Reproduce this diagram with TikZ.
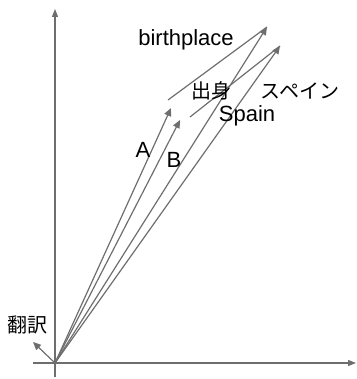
\documentclass[tikz,border=0pt]{standalone}
\usepackage{fontspec}
\setmainfont{Liberation Sans}
\newfontfamily\jpfont{Noto Sans CJK JP}
\usetikzlibrary{arrows.meta, positioning}
\definecolor{cgrey}{HTML}{6E6E6E}
\tikzset{
  every picture/.style={line width=1.2pt},
  axis/.style={draw=cgrey, line width=1.3pt, -{Triangle[length=8pt, width=6pt]}},
  vec/.style={draw=cgrey, line width=1.2pt, -{Triangle[length=8pt, width=7pt]}},
  diff/.style={draw=cgrey, line width=1.2pt},
  lab/.style={font=\fontsize{22}{22}\selectfont, inner sep=0pt},
  jlab/.style={font=\jpfont\fontsize{20}{20}\selectfont, inner sep=0pt},
}

\begin{document}
\begin{tikzpicture}[x=1pt, y=-1pt]
  \useasboundingbox (0,0) rectangle (356,379);
  % axes
  \coordinate (o) at (55,363);
  \coordinate (ybot) at (55,377);
  \coordinate (ytop) at (55,9);
  \coordinate (xleft) at (33,363);
  \coordinate (xright) at (356,363);
  \draw[axis] (ybot) -- (ytop);
  \draw[axis] (xleft) -- (xright);
  % word vectors
  \coordinate (tA) at (171,108);
  \coordinate (tB) at (180,120);
  \coordinate (tC) at (267,27);
  \coordinate (tD) at (280,46);
  \coordinate (tT) at (33,342);
  \draw[vec] (o) -- (tA);
  \draw[vec] (o) -- (tB);
  \draw[vec] (o) -- (tC);
  \draw[vec] (o) -- (tD);
  \draw[vec] (o) -- (tT);
  % differences
  \coordinate (sA) at (168,100);
  \coordinate (sB) at (190,117);
  \draw[diff] (sA) -- (tC);
  \draw[diff] (sB) -- (tD);
  % labels
  \node[lab] (birthplace) at (186,40) {birthplace};
  \node[jlab] (shusshin) at (211,91) {出身};
  \node[jlab] (supein) at (300,91) {スペイン};
  \node[lab] (spain) at (247,116) {Spain};
  \node[lab] (a) at (143,150) {A};
  \node[lab] (b) at (174,160) {B};
  \node[jlab] (honyaku) at (27,325) {翻訳};
\end{tikzpicture}
\end{document}
